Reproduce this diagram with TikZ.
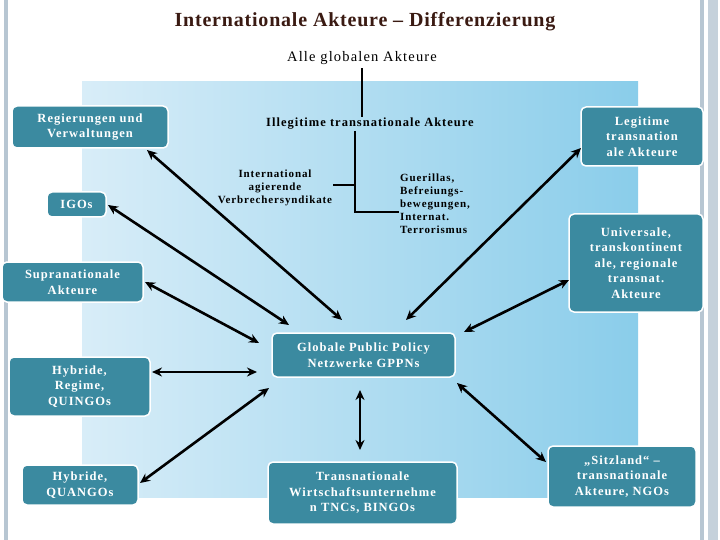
\documentclass[tikz,border=0pt]{standalone}
\usepackage{fontspec}
\setmainfont{Liberation Serif}
\newfontfamily\spacedserif[LetterSpace=8]{Liberation Serif}
\newfontfamily\titleserif[LetterSpace=4]{Liberation Serif}
\usetikzlibrary{arrows.meta}
\definecolor{teal1}{HTML}{3B8AA0}
\definecolor{bgL}{HTML}{D8EDF8}
\definecolor{bgR}{HTML}{8ACDEA}
\definecolor{titlec}{HTML}{3A1A12}
\definecolor{frame}{HTML}{B7C6D2}
\tikzset{
  box/.style={draw=white, line width=1.5pt, fill=teal1, rounded corners=5pt, text=white, font=\spacedserif\fontsize{12.5}{15.5}\selectfont\bfseries, align=center, inner sep=1pt},
  lbl/.style={font=\spacedserif\fontsize{11}{13}\selectfont\bfseries, align=center, inner sep=1pt},
  arr/.style={line width=2.6pt, {Stealth[length=10pt,width=9pt]}-{Stealth[length=10pt,width=9pt]}},
  tree/.style={line width=2.2pt}
}
\begin{document}
\begin{tikzpicture}[x=1pt,y=-1pt]
\useasboundingbox (0,0) rectangle (720,540);
\fill[white] (0,0) rectangle (720,540);
\fill[frame] (4,0) rectangle (8,540);
\fill[frame] (700,0) rectangle (704,540);
\fill[frame!80] (708,0) rectangle (718,540);
\shade[left color=bgL, right color=bgR] (82,82) rectangle (638,497);
\node[font=\titleserif\fontsize{20}{22}\selectfont\bfseries, text=titlec] (title) at (365,22) {Internationale Akteure – Differenzierung};
\node[font=\spacedserif\fontsize{14.5}{16}\selectfont] (alle) at (362,58) {Alle globalen Akteure};
\node[lbl, font=\spacedserif\fontsize{12.5}{15}\selectfont\bfseries] (ill) at (370,124) {Illegitime transnationale Akteure};
\node[lbl] (verb) at (275,188) {International\\agierende\\Verbrechersyndikate};
\node[lbl, align=left, anchor=west] (gue) at (399,204) {Guerillas,\\Befreiungs-\\bewegungen,\\Internat.\\Terrorismus};
\coordinate (j1) at (355,185);
\coordinate (j2) at (355,212);
\draw[tree] (alle.south) -- (alle.south |- ill.north);
\draw[tree] (ill.south -| j1) -- (j2) -- (j2 -| gue.west);
\draw[tree] (verb.east |- j1) -- (j1);

\node[box, minimum width=156pt, minimum height=42pt] (reg) at (90,127) {Regierungen und\\Verwaltungen};
\node[box, minimum width=59pt, minimum height=25pt] (igo) at (76.5,204.5) {IGOs};
\node[box, minimum width=141pt, minimum height=40pt] (sup) at (72.5,282) {Supranationale\\Akteure};
\node[box, minimum width=141pt, minimum height=59pt] (hyr) at (79.5,386.5) {Hybride,\\Regime,\\QUINGOs};
\node[box, minimum width=116pt, minimum height=40pt] (hyq) at (80,485) {Hybride,\\QUANGOs};
\node[box, minimum width=183pt, minimum height=44pt] (gppn) at (363.5,355) {Globale Public Policy\\Netzwerke GPPNs};
\node[box, minimum width=189pt, minimum height=62pt] (tnc) at (362.5,493) {Transnationale\\Wirtschaftsunternehme\\n TNCs, BINGOs};
\node[box, minimum width=122pt, minimum height=59pt] (leg) at (642,136.5) {Legitime\\transnation\\ale Akteure};
\node[box, minimum width=134pt, minimum height=98pt] (uni) at (636,263) {Universale,\\transkontinent\\ale, regionale\\transnat.\\Akteure};
\node[box, minimum width=148pt, minimum height=61pt] (sitz) at (622,476.5) {„Sitzland“ –\\transnationale\\Akteure, NGOs};

\coordinate (rg) at (147,150); \coordinate (rg2) at (342,320);
\coordinate (ig) at (108,205); \coordinate (ig2) at (289,325);
\coordinate (lg) at (581,148); \coordinate (lg2) at (406,320);
\coordinate (sp) at (145,282); \coordinate (sp2) at (259,343);
\coordinate (hr) at (152,372); \coordinate (hr2) at (257,372);
\coordinate (hq) at (140,483); \coordinate (hq2) at (269,388);
\coordinate (tn) at (360,390); \coordinate (tn2) at (360,450);
\coordinate (st) at (457,383); \coordinate (st2) at (546,462);
\coordinate (un) at (464,332); \coordinate (un2) at (569,280);
\draw[arr] (rg) -- (rg2);
\draw[arr] (ig) -- (ig2);
\draw[arr] (lg) -- (lg2);
\draw[arr] (sp) -- (sp2);
\draw[arr] (hr) -- (hr2);
\draw[arr] (hq) -- (hq2);
\draw[arr] (tn) -- (tn2);
\draw[arr] (st) -- (st2);
\draw[arr] (un) -- (un2);
\end{tikzpicture}
\end{document}
